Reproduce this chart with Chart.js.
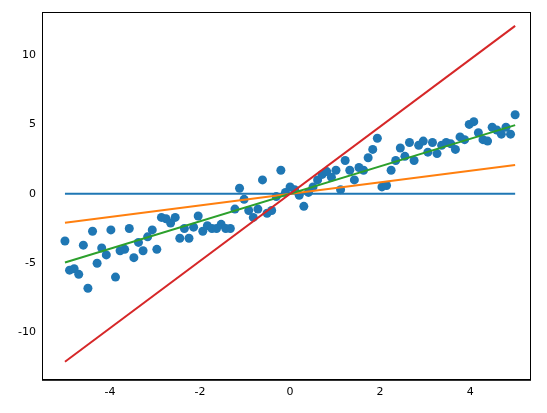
<!DOCTYPE html>
<html><head>
<script src="https://cdn.jsdelivr.net/npm/chart.js@4"></script>
<style>body{margin:0;background:#fff}#wrap{width:547px;height:413px}</style>
</head><body><div id="wrap"><canvas id="c"></canvas></div>
<script>
const scatterY = [-3.4,-5.5,-5.4,-5.8,-3.7,-6.8,-2.7,-5.0,-3.9,-4.4,
  -2.6,-6.0,-4.1,-4.0,-2.5,-4.6,-3.5,-4.1,-3.1,-2.6,
  -4.0,-1.7,-1.8,-2.1,-1.7,-3.2,-2.5,-3.2,-2.4,-1.6,
  -2.7,-2.3,-2.5,-2.5,-2.2,-2.5,-2.5,-1.1,0.4,-0.4,
  -1.2,-1.7,-1.1,1.0,-1.4,-1.2,-0.2,1.7,0.1,0.5,
  0.3,-0.1,-0.9,0.1,0.5,1.0,1.4,1.6,1.2,1.7,
  0.3,2.4,1.7,1.0,1.9,1.7,2.6,3.2,4.0,0.5,
  0.6,1.7,2.4,3.3,2.7,3.7,2.4,3.5,3.8,3.0,
  3.7,2.9,3.5,3.7,3.6,3.2,4.1,3.9,5.0,5.2,
  4.4,3.9,3.8,4.8,4.6,4.3,4.8,4.3,5.7];
const lineX = [-5, 5];
const flatY = [0, 0];
const orangeY = [-2.08, 2.08];
const greenY = [-4.95, 4.95];
const redY = [-12.1, 12.1];
const xTicks = [-4, -2, 0, 2, 4];
const yTicks = [-10, -5, 0, 5, 10];

const n = scatterY.length;
const pts = scatterY.map((y, i) => ({x: -5 + 10 * i / (n - 1), y: y}));
const line = (ys) => lineX.map((x, i) => ({x: x, y: ys[i]}));
const lineDs = (ys, color, order) => ({type: 'line', data: line(ys), borderColor: color,
  borderWidth: 2, pointRadius: 0, fill: false, order: order});

new Chart(document.getElementById('c'), {
  type: 'scatter',
  data: {datasets: [
    {data: pts, backgroundColor: '#1f77b4', borderWidth: 0, pointRadius: 4.5, order: 10},
    lineDs(flatY, '#1f77b4', 4),
    lineDs(orangeY, '#ff7f0e', 3),
    lineDs(greenY, '#2ca02c', 2),
    lineDs(redY, '#d62728', 1)
  ]},
  options: {
    responsive: true, maintainAspectRatio: false, animation: false,
    layout: {padding: {top: 12, right: 17, left: 0, bottom: 12}},
    plugins: {legend: {display: false}, tooltip: {enabled: false}},
    scales: {
      x: {type: 'linear', min: -5.51, max: 5.33,
        afterBuildTicks: a => { a.ticks = xTicks.map(v => ({value: v})); },
        grid: {display: false, drawTicks: true, tickLength: 4, tickColor: '#000'},
        border: {color: '#000'},
        ticks: {color: '#000', font: {family: 'DejaVu Sans', size: 11}, padding: 2}},
      y: {min: -13.4, max: 13.1,
        afterBuildTicks: a => { a.ticks = yTicks.map(v => ({value: v})); },
        afterFit: a => { a.width = 42; },
        grid: {display: false, tickLength: 4, tickColor: '#000'},
        border: {color: '#000'},
        ticks: {color: '#000', font: {family: 'DejaVu Sans', size: 11}, padding: 2}}
    }
  },
  plugins: [{id: 'box', afterDraw(c) {
    const a = c.chartArea, g = c.ctx;
    g.save(); g.strokeStyle = '#000'; g.lineWidth = 1;
    g.strokeRect(a.left + 0.5, a.top + 0.5, a.right - a.left, a.bottom - a.top);
    g.restore();
  }}]
});
</script></body></html>
